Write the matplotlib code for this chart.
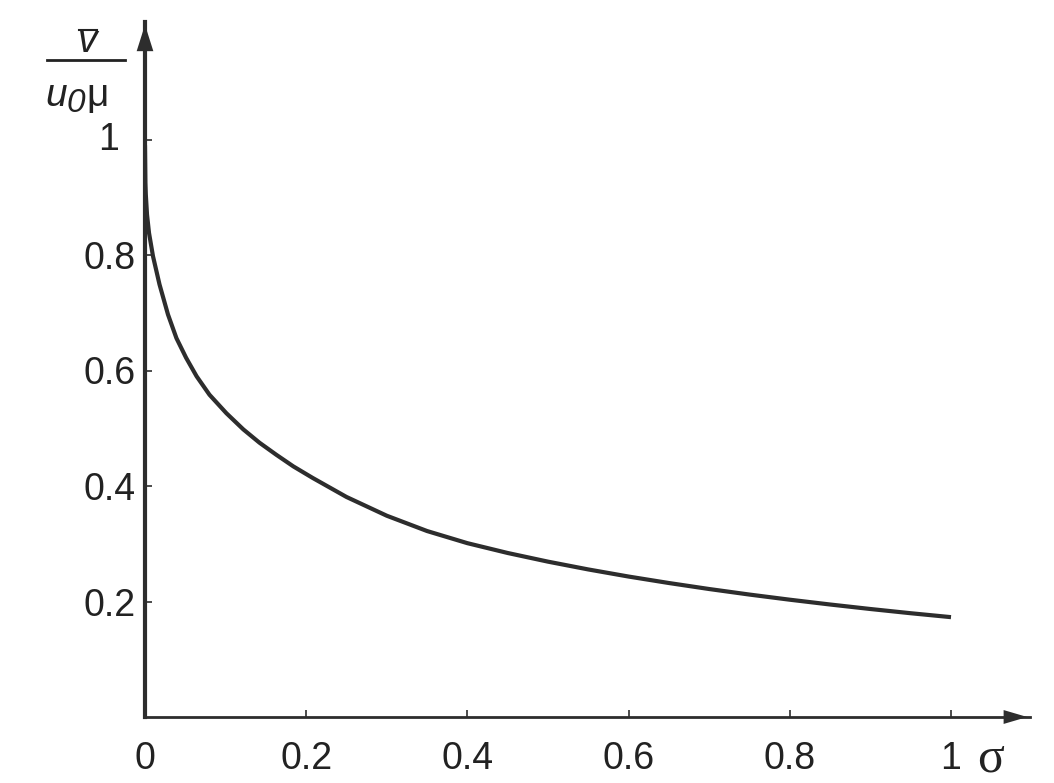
import matplotlib.pyplot as plt
from matplotlib.lines import Line2D

# curve
sigma = [0.0, 0.0005, 0.001, 0.0025, 0.005, 0.0099, 0.018, 0.0285, 0.039, 0.051,
         0.064, 0.080, 0.101, 0.122, 0.142, 0.163, 0.184, 0.208, 0.25, 0.3,
         0.35, 0.4, 0.45, 0.5, 0.55, 0.6, 0.65, 0.7, 0.75, 0.8, 0.85, 0.9,
         0.95, 1.0]
v_ratio = [0.99, 0.925, 0.905, 0.870, 0.838, 0.798, 0.749, 0.697, 0.656, 0.622,
           0.590, 0.558, 0.526, 0.498, 0.475, 0.454, 0.434, 0.414, 0.381, 0.3485,
           0.322, 0.301, 0.284, 0.269, 0.2555, 0.2432, 0.2320, 0.2216, 0.2120,
           0.2031, 0.1948, 0.1870, 0.1797, 0.1729]
xticks = [0, 0.2, 0.4, 0.6, 0.8, 1]
xticklabels = ['0', '0.2', '0.4', '0.6', '0.8', '1']
yticks = [0.2, 0.4, 0.6, 0.8, 1]
yticklabels = ['0.2', '0.4', '0.6', '0.8', '']

dark = '#2d2d2d'
txt = '#222222'
plt.rcParams['font.family'] = ['Liberation Sans', 'DejaVu Sans']

fig = plt.figure(figsize=(10.54, 7.83), dpi=100)
ax = fig.add_axes([145 / 1054, 66 / 783, (1030 - 145) / 1054, (717 - 22) / 783])

ax.plot(sigma, v_ratio, color=dark, lw=3.0, solid_capstyle='butt')

ax.set_xlim(0, (1030 - 145) / 806)
ax.set_ylim(0, (717 - 22) / 577.5)

for s in ['top', 'right']:
    ax.spines[s].set_visible(False)
ax.spines['left'].set_color(dark)
ax.spines['left'].set_linewidth(3.0)
ax.spines['bottom'].set_color(dark)
ax.spines['bottom'].set_linewidth(2.0)

ax.set_xticks(xticks)
ax.set_xticklabels(xticklabels, fontsize=27)
ax.set_yticks(yticks)
ax.set_yticklabels(yticklabels, fontsize=27)
ax.tick_params(axis='x', direction='in', length=5, width=1.2, color=dark, pad=17, labelcolor=txt)
ax.tick_params(axis='y', direction='in', length=5, width=1.2, color=dark, pad=7, labelcolor=txt)

# the "1" on the y axis sits a bit further left in the reference
ax.annotate('1', xy=(0, 1), xycoords='data', xytext=(-19, 0), textcoords='offset points',
            ha='right', va='center', fontsize=27, color=txt)

# arrow heads
ax.annotate('', xy=(0, 1.0), xycoords='axes fraction', xytext=(0, 0.94),
            arrowprops=dict(arrowstyle='-|>,head_length=1.9,head_width=0.6', color=dark, lw=0))
ax.annotate('', xy=(1.0, 0), xycoords='axes fraction', xytext=(0.96, 0),
            arrowprops=dict(arrowstyle='-|>,head_length=1.7,head_width=0.5', color=dark, lw=0))

# axis names
fig.text(977 / 1054, 1 - 772 / 783, 'σ', family='Liberation Serif', fontsize=36, color=txt)
fig.text(88 / 1054, 1 - 52 / 783, 'v', style='italic', fontsize=28, color=txt, ha='center')
fig.add_artist(Line2D([79 / 1054, 97 / 1054], [1 - 30 / 783, 1 - 30 / 783], color=txt, lw=1.5))
fig.add_artist(Line2D([47 / 1054, 125 / 1054], [1 - 60 / 783, 1 - 60 / 783], color=txt, lw=2.0))
fig.text(45 / 1054, 1 - 106 / 783, 'u', style='italic', fontsize=28, color=txt)
fig.text(67 / 1054, 1 - 112 / 783, '0', style='italic', fontsize=24, color=txt)
fig.text(86 / 1054, 1 - 106 / 783, 'μ', fontsize=28, color=txt)

fig.savefig('out.png', dpi=100, facecolor='white')
